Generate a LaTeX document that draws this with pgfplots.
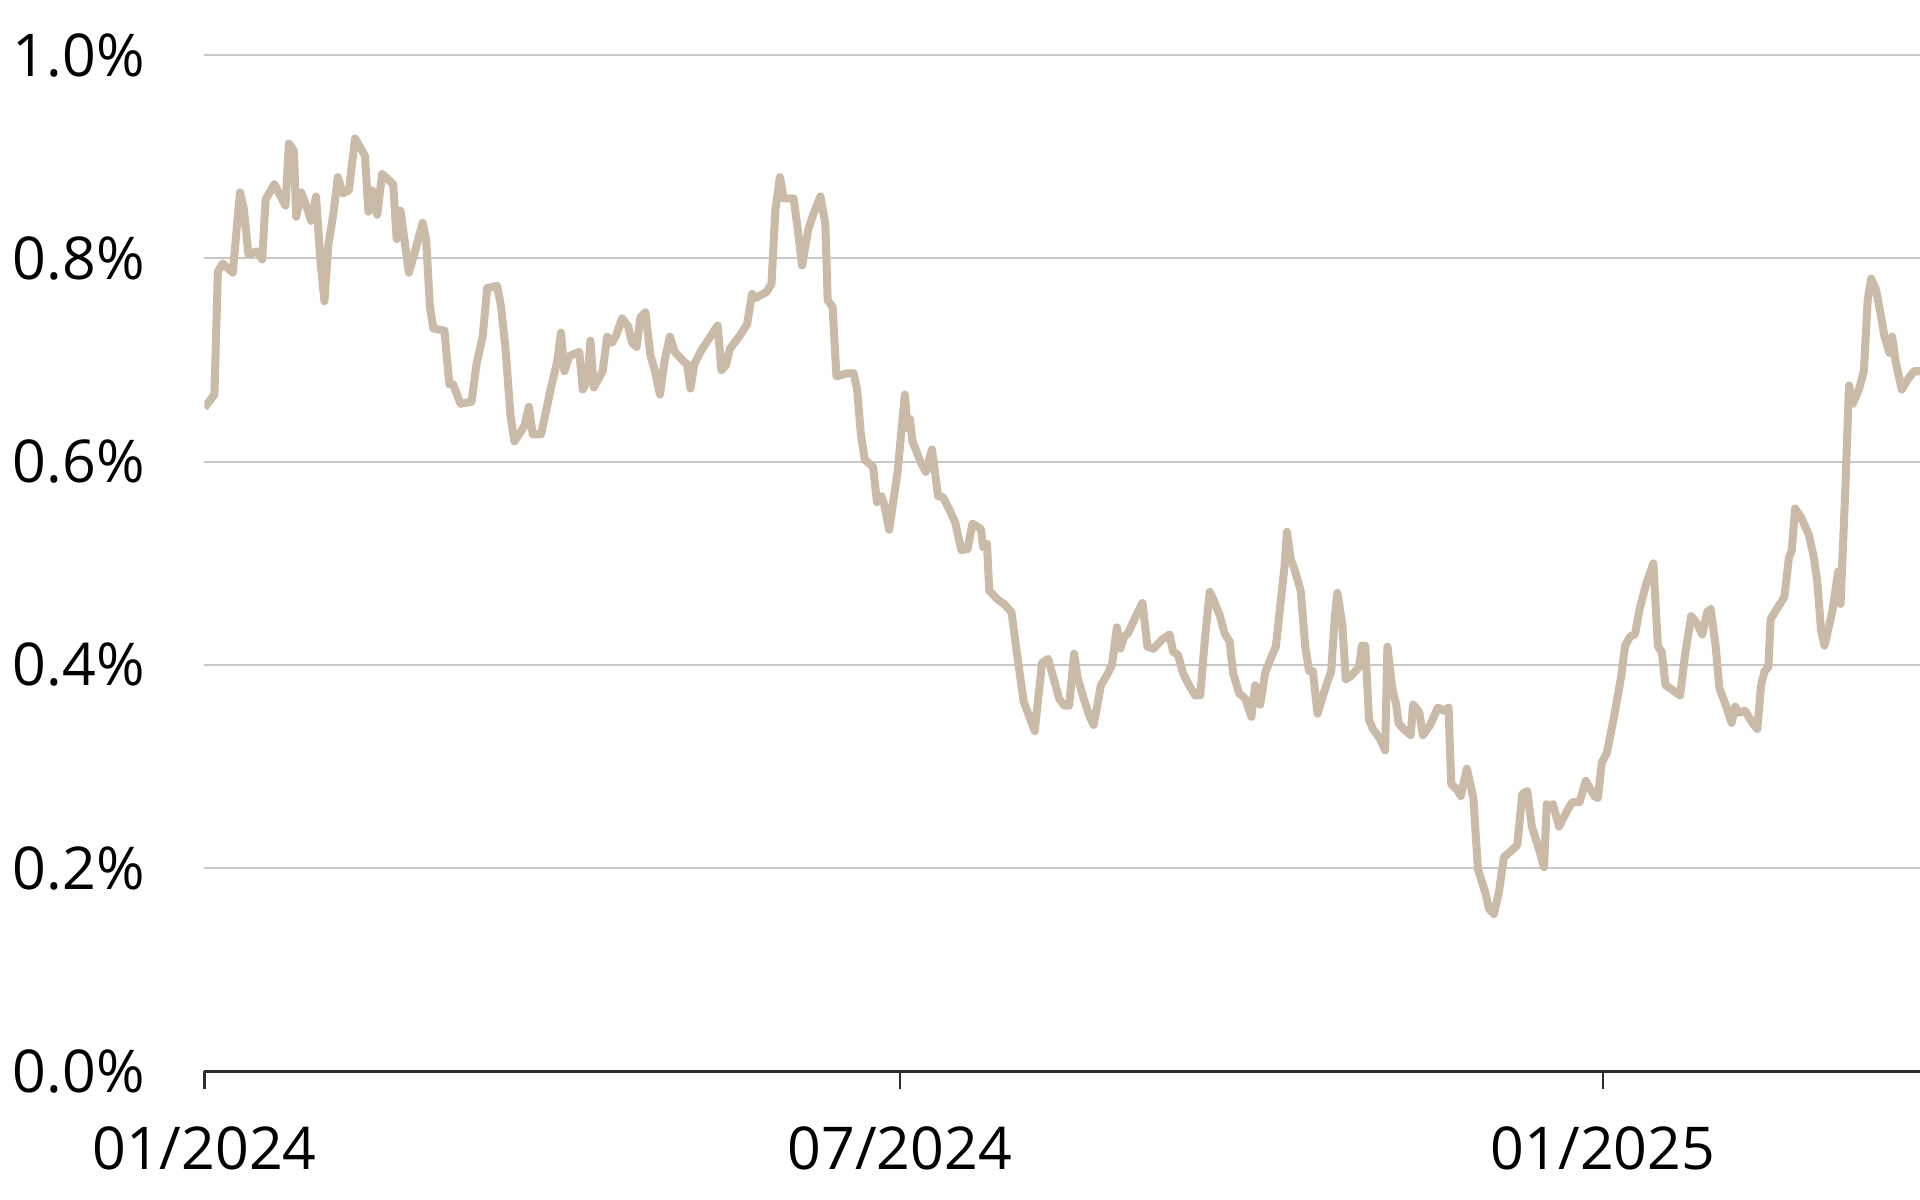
\documentclass[border=0pt]{standalone}
\usepackage{fontspec}
\setmainfont{Open Sans}
\usepackage{pgfplots}
\pgfplotsset{compat=1.18}
\definecolor{sand}{RGB}{202,187,168}
\definecolor{gridc}{RGB}{200,200,200}
\definecolor{axc}{RGB}{45,45,45}
\begin{document}
\begin{tikzpicture}
\begin{axis}[
  at={(0,0)}, anchor=south west,
  scale only axis, width=14.296cm, height=8.469cm,
  xmin=0, xmax=449, ymin=0, ymax=1.0,
  axis x line*=bottom, axis y line*=left,
  x axis line style={-, draw=axc, line width=0.6pt},
  y axis line style={draw=none},
  ytick={0,0.2,0.4,0.6,0.8,1.0},
  yticklabels={0.0\%,0.2\%,0.4\%,0.6\%,0.8\%,1.0\%},
  xtick={0,182,366},
  xticklabels={01/2024,07/2024,01/2025},
  ymajorgrids, grid style={gridc, line width=0.5pt},
  ytick style={draw=none},
  xtick style={draw=axc, line width=0.6pt},
  tick align=outside, major tick length=0.15cm,
  tick label style={font=\fontsize{14}{16}\selectfont, text=black},
  yticklabel style={inner sep=0pt, anchor=east, xshift=-0.34cm},
  xticklabel style={inner sep=0pt, anchor=north, yshift=-0.3cm},
  clip=true,
]
\addplot[sand, line width=1.9pt, line join=round] table {
d v
0 0.653
2.6 0.666
3.5 0.787
4.8 0.795
7.4 0.786
9.3 0.865
10.3 0.849
11.5 0.804
13.8 0.807
15.1 0.799
16.0 0.858
18.3 0.873
20.2 0.859
21.2 0.852
22.1 0.913
23.4 0.906
24.0 0.841
25.3 0.865
26.9 0.849
27.9 0.837
29.2 0.861
30.4 0.795
31.4 0.758
32.4 0.813
33.7 0.843
34.9 0.880
36.2 0.864
37.8 0.867
39.4 0.918
42.0 0.901
42.9 0.846
43.9 0.867
45.2 0.843
46.5 0.883
49.4 0.873
50.3 0.819
51.3 0.847
53.5 0.786
55.1 0.807
57.1 0.835
58.0 0.819
59.0 0.753
59.9 0.731
62.8 0.729
64.1 0.676
65.1 0.676
67.0 0.657
69.9 0.659
71.2 0.696
72.8 0.723
74.0 0.771
76.6 0.773
77.6 0.753
78.8 0.711
80.1 0.645
81.1 0.620
83.7 0.635
84.9 0.654
85.9 0.627
88.1 0.627
90.7 0.673
92.3 0.698
93.3 0.727
94.2 0.689
95.5 0.704
98.1 0.708
99.0 0.671
100.3 0.681
101.0 0.719
101.9 0.673
104.2 0.689
105.4 0.723
106.7 0.717
107.7 0.724
109.3 0.741
110.9 0.733
111.9 0.717
113.1 0.713
114.1 0.742
115.4 0.747
116.7 0.705
117.9 0.689
119.2 0.666
120.5 0.701
121.8 0.723
123.1 0.708
125.3 0.699
126.3 0.696
127.2 0.672
128.2 0.696
130.1 0.710
131.7 0.719
134.3 0.734
135.3 0.690
136.5 0.695
137.5 0.711
140.1 0.724
142.0 0.735
143.3 0.765
144.2 0.761
147.1 0.767
148.4 0.775
149.4 0.847
150.6 0.880
151.6 0.859
154.2 0.859
155.1 0.834
156.4 0.793
158.0 0.828
159.3 0.843
161.2 0.861
162.5 0.834
163.1 0.759
164.4 0.752
165.4 0.684
168.3 0.687
169.9 0.687
170.8 0.671
171.8 0.627
172.8 0.602
175.0 0.595
176.0 0.560
177.2 0.566
177.9 0.558
179.2 0.533
181.4 0.590
183.3 0.666
184.0 0.633
184.6 0.642
185.3 0.620
187.5 0.599
188.8 0.590
190.4 0.612
192.0 0.566
193.3 0.565
195.2 0.551
196.5 0.540
198.1 0.513
199.7 0.514
201.0 0.539
203.2 0.534
203.8 0.516
204.8 0.519
205.4 0.473
207.7 0.464
209.3 0.460
211.2 0.452
212.8 0.407
214.4 0.364
217.3 0.335
219.2 0.402
220.8 0.406
223.7 0.367
225.0 0.360
226.3 0.360
227.6 0.411
228.5 0.388
230.1 0.367
231.4 0.352
232.7 0.341
234.0 0.367
234.6 0.380
236.2 0.390
237.5 0.400
238.8 0.437
239.7 0.416
240.7 0.428
241.7 0.431
243.9 0.449
245.5 0.461
246.8 0.418
248.4 0.416
250.6 0.425
252.6 0.430
253.5 0.413
254.8 0.410
256.1 0.392
257.7 0.380
259.3 0.370
260.6 0.370
261.9 0.428
263.1 0.472
264.1 0.464
265.7 0.449
267.0 0.431
268.3 0.423
269.2 0.392
270.8 0.372
272.4 0.367
274.0 0.349
275.0 0.380
276.3 0.361
277.6 0.392
278.8 0.404
280.4 0.418
282.7 0.498
283.3 0.531
284.3 0.504
285.3 0.494
286.9 0.473
288.1 0.418
289.1 0.394
290.1 0.394
291.3 0.352
293.6 0.380
294.9 0.394
295.8 0.446
296.5 0.471
297.8 0.440
298.7 0.386
300.0 0.389
302.2 0.398
302.9 0.419
303.8 0.419
304.8 0.346
305.8 0.337
307.7 0.327
309.0 0.316
309.6 0.418
310.9 0.376
311.9 0.361
312.5 0.343
313.8 0.337
315.7 0.331
316.3 0.361
317.9 0.354
318.9 0.331
320.8 0.341
322.1 0.352
322.8 0.358
324.4 0.355
325.6 0.358
326.3 0.283
327.9 0.277
328.8 0.271
330.4 0.298
332.1 0.269
333.3 0.199
335.3 0.175
336.2 0.160
337.5 0.155
338.8 0.177
340.1 0.211
342.0 0.217
343.6 0.223
344.9 0.273
346.2 0.276
347.4 0.241
349.4 0.217
350.6 0.201
351.3 0.263
352.2 0.259
352.9 0.263
354.5 0.241
356.7 0.257
358.0 0.265
359.9 0.265
361.5 0.286
363.8 0.271
364.7 0.269
365.7 0.304
367.0 0.313
368.9 0.349
370.8 0.389
371.8 0.419
373.1 0.428
374.4 0.430
375.6 0.455
377.2 0.478
379.2 0.500
380.4 0.418
381.4 0.413
382.4 0.380
384.0 0.376
386.2 0.370
387.5 0.410
389.1 0.448
390.4 0.442
392.0 0.430
393.3 0.452
394.2 0.455
395.5 0.419
396.5 0.377
398.1 0.361
399.7 0.343
400.6 0.359
401.6 0.353
403.2 0.355
405.1 0.343
406.4 0.337
407.4 0.380
408.3 0.394
409.3 0.398
409.9 0.445
411.5 0.455
413.5 0.467
414.7 0.506
415.4 0.512
416.3 0.554
417.9 0.545
419.9 0.528
421.2 0.506
422.1 0.482
423.1 0.434
424.0 0.419
426.0 0.452
427.6 0.492
428.2 0.460
429.5 0.578
430.4 0.675
431.4 0.657
433.0 0.671
434.3 0.689
435.3 0.759
436.2 0.780
437.5 0.769
438.8 0.743
439.7 0.723
441.0 0.707
441.7 0.723
442.6 0.699
444.2 0.671
445.8 0.681
447.4 0.689
449.0 0.689
};
\end{axis}
\pgfresetboundingbox
\path (-1.704,-1.071) rectangle (14.296,8.929);
\end{tikzpicture}
\end{document}
